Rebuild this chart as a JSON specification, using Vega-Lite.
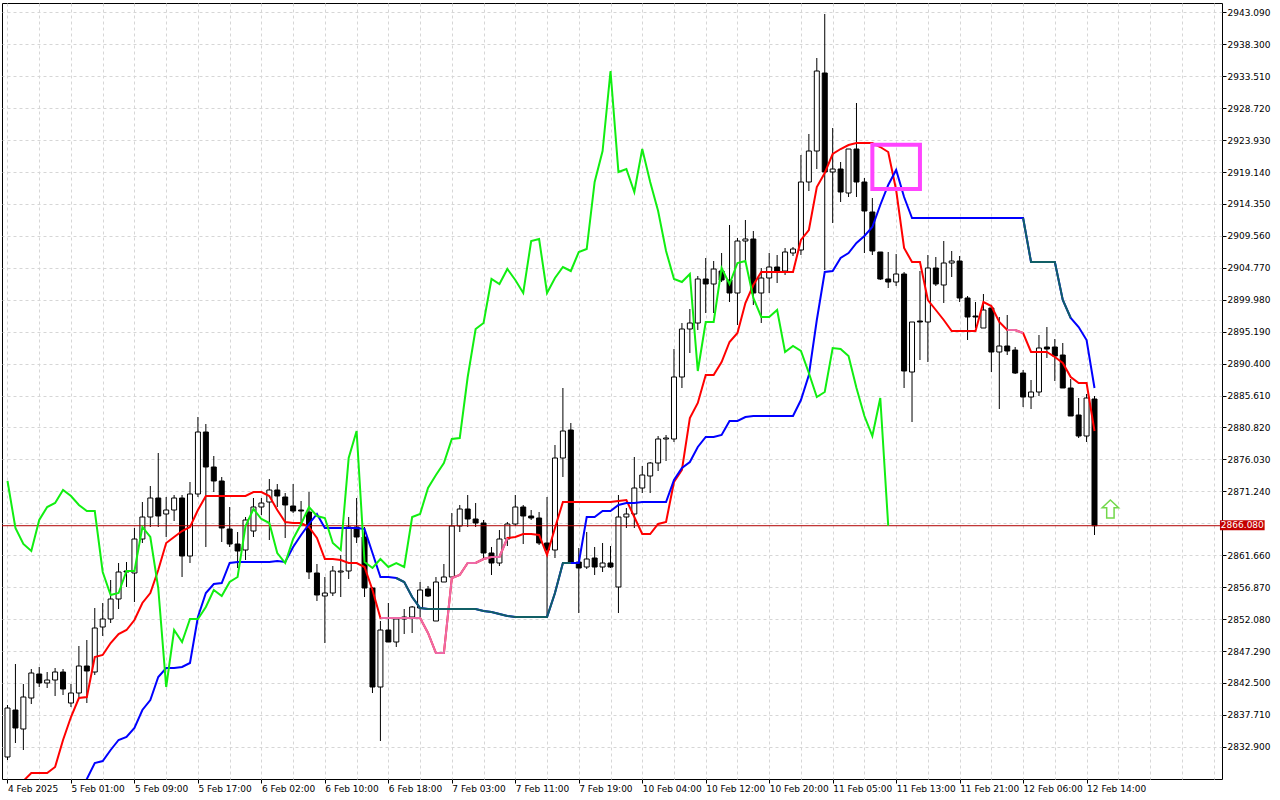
{
  "$schema": "https://vega.github.io/schema/vega-lite/v6.json",
  "width": 1220,
  "height": 776,
  "autosize": {"type": "none"},
  "padding": {"left": 2, "top": 3, "right": 58, "bottom": 21},
  "background": "white",
  "config": {
    "view": {"stroke": "black", "strokeWidth": 1},
    "font": "DejaVu Sans",
    "axis": {"labelOverlap": false}
  },
  "datasets": {
    "ohlc": [
      {"i":0,"o":2831.39,"h":2839.19,"l":2830.94,"c":2838.74,"t":2826.44,"g":2872.79},
      {"i":1,"o":2838.44,"h":2845.34,"l":2833.49,"c":2835.74,"t":2827.04,"g":2865.74},
      {"i":2,"o":2835.59,"h":2842.34,"l":2832.44,"c":2840.39,"t":2827.79,"g":2863.34},
      {"i":3,"o":2840.24,"h":2844.59,"l":2839.34,"c":2843.99,"t":2828.99,"g":2862.29},
      {"i":4,"o":2843.84,"h":2844.89,"l":2841.89,"c":2842.49,"t":2828.99,"g":2866.94},
      {"i":5,"o":2842.49,"h":2844.14,"l":2841.74,"c":2842.94,"t":2828.99,"g":2868.89},
      {"i":6,"o":2842.94,"h":2844.74,"l":2840.54,"c":2844.14,"t":2829.89,"g":2869.49},
      {"i":7,"o":2844.14,"h":2844.59,"l":2840.69,"c":2841.59,"t":2833.94,"g":2871.44},
      {"i":8,"o":2839.49,"h":2842.34,"l":2838.89,"c":2840.99,"t":2837.39,"g":2870.54},
      {"i":9,"o":2840.99,"h":2848.04,"l":2840.39,"c":2845.04,"t":2840.24,"k":2826.44,"g":2869.19},
      {"i":10,"o":2845.04,"h":2848.94,"l":2839.49,"c":2844.29,"t":2840.39,"k":2828.09,"g":2868.29},
      {"i":11,"o":2844.14,"h":2853.74,"l":2843.69,"c":2850.74,"t":2846.39,"k":2830.49,"g":2868.29},
      {"i":12,"o":2850.89,"h":2854.49,"l":2849.54,"c":2852.09,"t":2846.69,"k":2830.79,"g":2859.14},
      {"i":13,"o":2852.09,"h":2857.94,"l":2851.49,"c":2855.09,"t":2848.49,"k":2832.44,"g":2855.69},
      {"i":14,"o":2855.09,"h":2860.49,"l":2853.59,"c":2859.14,"t":2849.84,"k":2833.94,"g":2855.99},
      {"i":15,"o":2859.29,"h":2860.64,"l":2856.89,"c":2859.14,"t":2850.44,"k":2834.39,"g":2859.29},
      {"i":16,"o":2858.99,"h":2865.74,"l":2854.64,"c":2864.09,"t":2851.94,"k":2835.74,"g":2859.29},
      {"i":17,"o":2864.09,"h":2869.64,"l":2863.49,"c":2867.39,"t":2854.49,"k":2838.44,"g":2865.89},
      {"i":18,"o":2867.39,"h":2872.04,"l":2865.89,"c":2870.24,"t":2855.99,"k":2839.94,"g":2864.39},
      {"i":19,"o":2870.24,"h":2876.99,"l":2865.89,"c":2867.54,"t":2859.44,"k":2843.39,"g":2856.74},
      {"i":20,"o":2867.84,"h":2870.39,"l":2864.39,"c":2868.44,"t":2863.49,"k":2844.74,"g":2841.89},
      {"i":21,"o":2868.44,"h":2870.69,"l":2866.79,"c":2870.24,"t":2864.39,"k":2844.74,"g":2850.44},
      {"i":22,"o":2870.24,"h":2870.69,"l":2858.39,"c":2861.54,"t":2865.29,"k":2844.89,"g":2848.64},
      {"i":23,"o":2861.54,"h":2872.64,"l":2860.49,"c":2870.84,"t":2865.89,"k":2845.49,"g":2852.09},
      {"i":24,"o":2870.84,"h":2882.39,"l":2870.39,"c":2880.14,"t":2868.44,"k":2852.39,"g":2852.09},
      {"i":25,"o":2880.14,"h":2881.34,"l":2862.89,"c":2874.89,"t":2870.54,"k":2855.99,"g":2853.89},
      {"i":26,"o":2874.89,"h":2876.54,"l":2871.14,"c":2872.79,"t":2870.54,"k":2857.34,"g":2856.44},
      {"i":27,"o":2872.79,"h":2873.39,"l":2863.64,"c":2865.74,"t":2870.54,"k":2857.49,"g":2855.54},
      {"i":28,"o":2865.59,"h":2868.89,"l":2862.89,"c":2863.34,"t":2870.54,"k":2860.49,"g":2857.64},
      {"i":29,"o":2863.34,"h":2865.14,"l":2859.74,"c":2862.29,"t":2870.54,"k":2860.64,"g":2858.39},
      {"i":30,"o":2862.44,"h":2867.39,"l":2860.94,"c":2866.94,"t":2870.54,"k":2860.64,"g":2866.04},
      {"i":31,"o":2865.29,"h":2870.24,"l":2864.39,"c":2868.89,"t":2871.14,"k":2860.64,"g":2868.59},
      {"i":32,"o":2868.89,"h":2870.24,"l":2867.69,"c":2869.49,"t":2871.14,"k":2860.64,"g":2867.09},
      {"i":33,"o":2869.64,"h":2873.09,"l":2863.94,"c":2871.44,"t":2870.54,"k":2860.64,"g":2866.49},
      {"i":34,"o":2871.44,"h":2872.34,"l":2868.89,"c":2870.54,"t":2868.44,"k":2860.79,"g":2861.99},
      {"i":35,"o":2870.39,"h":2870.99,"l":2864.24,"c":2869.19,"t":2866.64,"k":2860.64,"g":2860.49},
      {"i":36,"o":2869.04,"h":2872.34,"l":2867.99,"c":2868.29,"t":2866.49,"k":2862.89,"g":2864.09},
      {"i":37,"o":2868.44,"h":2869.79,"l":2866.04,"c":2868.29,"t":2866.49,"k":2864.69,"g":2866.34},
      {"i":38,"o":2868.14,"h":2871.14,"l":2858.09,"c":2859.14,"t":2865.89,"k":2866.34,"g":2868.89},
      {"i":39,"o":2858.99,"h":2860.34,"l":2854.79,"c":2855.69,"t":2864.24,"k":2867.84,"g":2867.54},
      {"i":40,"o":2855.54,"h":2858.39,"l":2848.49,"c":2855.99,"t":2861.09,"k":2865.74,"g":2867.24},
      {"i":41,"o":2855.99,"h":2860.04,"l":2855.54,"c":2859.29,"t":2861.09,"k":2865.74,"g":2863.49},
      {"i":42,"o":2859.14,"h":2861.69,"l":2855.39,"c":2859.29,"t":2860.94,"k":2865.74,"g":2862.44},
      {"i":43,"o":2859.29,"h":2867.39,"l":2858.09,"c":2865.89,"t":2860.49,"k":2865.74,"g":2876.24},
      {"i":44,"o":2865.89,"h":2870.24,"l":2863.49,"c":2864.39,"t":2860.49,"k":2865.74,"g":2880.29},
      {"i":45,"o":2864.39,"h":2865.89,"l":2855.39,"c":2856.74,"t":2859.89,"k":2865.59,"g":2860.64},
      {"i":46,"o":2856.74,"h":2856.89,"l":2840.99,"c":2841.89,"t":2856.44,"k":2861.99,"g":2859.74},
      {"i":47,"o":2841.89,"h":2851.79,"l":2833.79,"c":2850.44,"t":2852.24,"k":2858.39,"g":2861.09},
      {"i":48,"o":2850.44,"h":2854.49,"l":2848.64,"c":2848.64,"t":2852.24,"k":2858.39,"g":2859.89},
      {"i":49,"o":2848.64,"h":2852.39,"l":2847.89,"c":2852.09,"t":2852.24,"k":2858.24,"g":2860.49},
      {"i":50,"o":2852.39,"h":2853.59,"l":2849.84,"c":2852.09,"t":2852.24,"k":2857.64,"g":2859.89},
      {"i":51,"o":2852.39,"h":2854.04,"l":2849.99,"c":2853.89,"t":2852.24,"k":2855.39,"g":2867.39},
      {"i":52,"o":2853.74,"h":2857.64,"l":2852.09,"c":2856.44,"t":2852.24,"k":2853.74,"g":2867.84},
      {"i":53,"o":2856.59,"h":2857.04,"l":2855.39,"c":2855.54,"t":2849.99,"k":2853.59,"g":2871.74},
      {"i":54,"o":2851.79,"h":2858.39,"l":2851.79,"c":2857.64,"t":2846.99,"k":2853.59,"g":2873.69},
      {"i":55,"o":2857.64,"h":2860.34,"l":2857.64,"c":2858.39,"t":2846.99,"k":2853.59,"g":2875.49},
      {"i":56,"o":2858.39,"h":2867.99,"l":2858.24,"c":2866.04,"t":2858.24,"k":2853.59,"g":2879.09},
      {"i":57,"o":2866.04,"h":2869.19,"l":2865.14,"c":2868.59,"t":2858.69,"k":2853.59,"g":2879.24},
      {"i":58,"o":2868.59,"h":2870.69,"l":2865.89,"c":2867.09,"t":2860.49,"k":2853.59,"g":2888.39},
      {"i":59,"o":2867.09,"h":2869.49,"l":2865.89,"c":2866.49,"t":2860.49,"k":2853.59,"g":2895.59},
      {"i":60,"o":2866.49,"h":2866.94,"l":2861.24,"c":2861.99,"t":2861.09,"k":2853.29,"g":2896.49},
      {"i":61,"o":2861.99,"h":2862.89,"l":2858.69,"c":2860.49,"t":2861.39,"k":2853.14,"g":2903.09},
      {"i":62,"o":2860.49,"h":2865.44,"l":2860.04,"c":2864.09,"t":2861.39,"k":2852.84,"g":2902.34},
      {"i":63,"o":2864.09,"h":2866.64,"l":2863.04,"c":2866.34,"t":2864.24,"k":2852.54,"g":2904.59},
      {"i":64,"o":2866.34,"h":2870.69,"l":2866.04,"c":2868.89,"t":2864.39,"k":2852.39,"g":2902.94},
      {"i":65,"o":2868.89,"h":2869.19,"l":2863.34,"c":2867.54,"t":2864.84,"k":2852.39,"g":2900.99},
      {"i":66,"o":2867.54,"h":2868.44,"l":2866.94,"c":2867.24,"t":2864.84,"k":2852.39,"g":2908.79},
      {"i":67,"o":2867.24,"h":2868.14,"l":2863.19,"c":2863.49,"t":2864.69,"k":2852.39,"g":2909.09},
      {"i":68,"o":2863.49,"h":2870.39,"l":2852.39,"c":2862.44,"t":2861.69,"k":2852.39,"g":2900.99},
      {"i":69,"o":2862.44,"h":2878.19,"l":2861.24,"c":2876.24,"t":2865.74,"k":2855.99,"g":2903.24},
      {"i":70,"o":2876.24,"h":2886.74,"l":2873.39,"c":2880.29,"t":2869.64,"k":2860.49,"g":2904.89},
      {"i":71,"o":2880.44,"h":2881.49,"l":2860.49,"c":2860.64,"t":2869.64,"k":2860.49,"g":2904.29},
      {"i":72,"o":2860.64,"h":2862.74,"l":2852.99,"c":2859.74,"t":2869.64,"k":2860.49,"g":2907.14},
      {"i":73,"o":2859.89,"h":2865.14,"l":2859.59,"c":2861.09,"t":2869.64,"k":2867.39,"g":2907.59},
      {"i":74,"o":2861.24,"h":2862.89,"l":2858.69,"c":2859.89,"t":2869.64,"k":2867.39,"g":2917.64},
      {"i":75,"o":2859.89,"h":2863.49,"l":2859.14,"c":2860.49,"t":2869.64,"k":2868.29,"g":2922.29},
      {"i":76,"o":2860.49,"h":2863.04,"l":2859.74,"c":2859.89,"t":2869.64,"k":2868.29,"g":2934.29},
      {"i":77,"o":2856.89,"h":2870.69,"l":2852.99,"c":2867.39,"t":2869.79,"k":2869.19,"g":2919.14},
      {"i":78,"o":2867.39,"h":2868.74,"l":2865.74,"c":2867.84,"t":2869.94,"k":2869.49,"g":2919.59},
      {"i":79,"o":2867.84,"h":2876.39,"l":2865.74,"c":2871.74,"t":2867.39,"k":2869.49,"g":2916.14},
      {"i":80,"o":2871.74,"h":2875.04,"l":2870.99,"c":2873.69,"t":2864.84,"k":2869.64,"g":2922.59},
      {"i":81,"o":2873.54,"h":2875.64,"l":2870.99,"c":2875.49,"t":2864.84,"k":2869.64,"g":2917.64},
      {"i":82,"o":2875.49,"h":2879.54,"l":2874.29,"c":2879.09,"t":2866.34,"k":2869.64,"g":2913.29},
      {"i":83,"o":2879.09,"h":2879.69,"l":2875.79,"c":2879.24,"t":2866.64,"k":2869.64,"g":2907.29},
      {"i":84,"o":2879.09,"h":2892.59,"l":2878.64,"c":2888.39,"t":2872.64,"k":2872.94,"g":2903.09},
      {"i":85,"o":2888.39,"h":2896.49,"l":2886.74,"c":2895.59,"t":2874.44,"k":2874.74,"g":2902.64},
      {"i":86,"o":2895.59,"h":2898.59,"l":2891.99,"c":2896.49,"t":2882.24,"k":2875.64,"g":2903.84},
      {"i":87,"o":2896.49,"h":2903.54,"l":2895.44,"c":2903.09,"t":2884.49,"k":2877.89,"g":2889.29},
      {"i":88,"o":2903.09,"h":2906.24,"l":2897.99,"c":2902.34,"t":2888.69,"k":2879.39,"g":2896.64},
      {"i":89,"o":2902.34,"h":2905.79,"l":2897.99,"c":2904.59,"t":2888.69,"k":2879.39,"g":2896.64},
      {"i":90,"o":2904.29,"h":2906.99,"l":2902.64,"c":2902.94,"t":2890.64,"k":2879.69,"g":2904.74},
      {"i":91,"o":2902.94,"h":2911.19,"l":2899.64,"c":2900.99,"t":2893.64,"k":2881.79,"g":2902.34},
      {"i":92,"o":2900.99,"h":2909.24,"l":2896.19,"c":2908.79,"t":2894.99,"k":2881.79,"g":2905.49},
      {"i":93,"o":2908.79,"h":2911.94,"l":2905.49,"c":2909.09,"t":2899.49,"k":2882.39,"g":2905.79},
      {"i":94,"o":2909.09,"h":2910.29,"l":2899.19,"c":2900.99,"t":2902.19,"k":2882.54,"g":2900.24},
      {"i":95,"o":2900.99,"h":2904.74,"l":2896.49,"c":2903.24,"t":2904.14,"k":2882.54,"g":2897.39},
      {"i":96,"o":2903.24,"h":2906.99,"l":2900.99,"c":2904.89,"t":2904.14,"k":2882.54,"g":2897.39},
      {"i":97,"o":2904.89,"h":2906.69,"l":2902.49,"c":2904.29,"t":2904.14,"k":2882.54,"g":2898.44},
      {"i":98,"o":2904.29,"h":2907.74,"l":2903.69,"c":2907.14,"t":2904.14,"k":2882.54,"g":2892.14},
      {"i":99,"o":2906.99,"h":2907.89,"l":2906.54,"c":2907.59,"t":2904.14,"k":2882.54,"g":2893.04},
      {"i":100,"o":2907.44,"h":2921.69,"l":2906.69,"c":2917.64,"t":2908.94,"k":2884.94,"g":2892.29},
      {"i":101,"o":2917.64,"h":2924.84,"l":2916.29,"c":2922.29,"t":2910.44,"k":2888.69,"g":2888.99},
      {"i":102,"o":2922.29,"h":2936.24,"l":2919.59,"c":2934.29,"t":2916.89,"k":2896.94,"g":2885.39},
      {"i":103,"o":2933.99,"h":2942.84,"l":2904.44,"c":2919.14,"t":2918.99,"k":2904.14,"g":2886.14},
      {"i":104,"o":2919.14,"h":2925.74,"l":2911.49,"c":2919.59,"t":2921.84,"k":2904.29,"g":2892.74},
      {"i":105,"o":2919.59,"h":2920.64,"l":2914.64,"c":2916.14,"t":2922.59,"k":2906.24,"g":2892.59},
      {"i":106,"o":2915.99,"h":2922.59,"l":2915.39,"c":2922.59,"t":2923.19,"k":2906.99,"g":2891.54},
      {"i":107,"o":2922.59,"h":2929.49,"l":2915.39,"c":2917.64,"t":2923.49,"k":2908.49,"g":2886.74},
      {"i":108,"o":2917.64,"h":2918.24,"l":2906.99,"c":2913.29,"t":2923.49,"k":2909.54,"g":2882.54},
      {"i":109,"o":2913.14,"h":2915.24,"l":2906.69,"c":2907.29,"t":2923.49,"k":2910.89,"g":2879.54},
      {"i":110,"o":2907.14,"h":2907.14,"l":2902.94,"c":2903.09,"t":2922.89,"k":2914.19,"g":2885.24},
      {"i":111,"o":2903.09,"h":2907.14,"l":2901.74,"c":2902.64,"t":2922.14,"k":2917.19,"g":2866.08},
      {"i":112,"o":2902.64,"h":2906.84,"l":2902.04,"c":2903.84,"t":2916.44,"k":2919.44},
      {"i":113,"o":2903.84,"h":2904.14,"l":2886.74,"c":2889.29,"t":2907.74,"k":2915.39},
      {"i":114,"o":2889.14,"h":2896.64,"l":2881.64,"c":2896.64,"t":2905.64,"k":2912.24},
      {"i":115,"o":2896.79,"h":2904.29,"l":2890.94,"c":2896.64,"t":2905.64,"k":2912.24},
      {"i":116,"o":2896.64,"h":2906.69,"l":2890.64,"c":2904.74,"t":2899.94,"k":2912.24},
      {"i":117,"o":2904.74,"h":2906.39,"l":2902.04,"c":2902.34,"t":2898.44,"k":2912.24},
      {"i":118,"o":2902.19,"h":2908.79,"l":2899.49,"c":2905.49,"t":2896.94,"k":2912.24},
      {"i":119,"o":2905.49,"h":2907.29,"l":2903.39,"c":2905.79,"t":2895.29,"k":2912.24},
      {"i":120,"o":2905.79,"h":2906.54,"l":2899.64,"c":2900.24,"t":2895.29,"k":2912.24},
      {"i":121,"o":2900.24,"h":2900.54,"l":2893.94,"c":2897.39,"t":2895.29,"k":2912.24},
      {"i":122,"o":2897.54,"h":2899.64,"l":2895.74,"c":2897.39,"t":2895.29,"k":2912.24},
      {"i":123,"o":2895.74,"h":2900.84,"l":2895.74,"c":2898.44,"t":2899.64,"k":2912.24},
      {"i":124,"o":2898.74,"h":2898.89,"l":2889.14,"c":2892.14,"t":2899.04,"k":2912.24},
      {"i":125,"o":2892.14,"h":2897.39,"l":2883.59,"c":2893.04,"t":2896.64,"k":2912.24},
      {"i":126,"o":2893.04,"h":2897.69,"l":2891.69,"c":2892.29,"t":2895.44,"k":2912.24},
      {"i":127,"o":2892.44,"h":2892.89,"l":2888.84,"c":2888.99,"t":2895.44,"k":2912.24},
      {"i":128,"o":2888.99,"h":2889.44,"l":2883.89,"c":2885.39,"t":2894.99,"k":2912.24},
      {"i":129,"o":2885.39,"h":2887.94,"l":2883.59,"c":2886.14,"t":2892.14,"k":2905.64},
      {"i":130,"o":2886.14,"h":2894.69,"l":2885.54,"c":2892.74,"t":2892.14,"k":2905.64},
      {"i":131,"o":2892.89,"h":2895.89,"l":2891.24,"c":2892.59,"t":2892.14,"k":2905.64},
      {"i":132,"o":2892.89,"h":2894.09,"l":2887.79,"c":2891.54,"t":2891.39,"k":2905.64},
      {"i":133,"o":2891.69,"h":2893.49,"l":2886.74,"c":2886.74,"t":2890.49,"k":2899.94},
      {"i":134,"o":2886.74,"h":2888.09,"l":2882.54,"c":2882.54,"t":2888.39,"k":2897.24},
      {"i":135,"o":2882.69,"h":2885.24,"l":2879.24,"c":2879.54,"t":2887.49,"k":2895.89},
      {"i":136,"o":2879.54,"h":2885.84,"l":2878.64,"c":2885.24,"t":2887.49,"k":2893.94},
      {"i":137,"o":2885.09,"h":2885.54,"l":2864.69,"c":2866.08,"t":2880.29,"k":2886.74}
    ],
    "seg": [
      {"s":"p1","line":"pink","i":47,"v":2852.24},{"s":"p1","line":"pink","i":48,"v":2852.24},
      {"s":"p1","line":"pink","i":49,"v":2852.24},{"s":"p1","line":"pink","i":50,"v":2852.24},
      {"s":"p1","line":"pink","i":51,"v":2852.24},{"s":"p1","line":"pink","i":52,"v":2852.24},
      {"s":"p1","line":"pink","i":53,"v":2849.99},{"s":"p1","line":"pink","i":54,"v":2846.99},
      {"s":"p1","line":"pink","i":55,"v":2846.99},{"s":"p1","line":"pink","i":56,"v":2858.24},
      {"s":"p1","line":"pink","i":57,"v":2858.69},{"s":"p1","line":"pink","i":58,"v":2860.49},
      {"s":"p1","line":"pink","i":59,"v":2860.49},{"s":"p1","line":"pink","i":60,"v":2861.09},
      {"s":"p1","line":"pink","i":61,"v":2861.39},{"s":"p1","line":"pink","i":62,"v":2861.39},
      {"s":"p1","line":"pink","i":63,"v":2864.24},
      {"s":"t1","line":"teal","i":49,"v":2858.24},{"s":"t1","line":"teal","i":50,"v":2857.64},
      {"s":"t1","line":"teal","i":51,"v":2855.39},{"s":"t1","line":"teal","i":52,"v":2853.74},
      {"s":"t1","line":"teal","i":53,"v":2853.59},{"s":"t1","line":"teal","i":54,"v":2853.59},
      {"s":"t1","line":"teal","i":55,"v":2853.59},{"s":"t1","line":"teal","i":56,"v":2853.59},
      {"s":"t1","line":"teal","i":57,"v":2853.59},{"s":"t1","line":"teal","i":58,"v":2853.59},
      {"s":"t1","line":"teal","i":59,"v":2853.59},{"s":"t1","line":"teal","i":60,"v":2853.29},
      {"s":"t1","line":"teal","i":61,"v":2853.14},{"s":"t1","line":"teal","i":62,"v":2852.84},
      {"s":"t1","line":"teal","i":63,"v":2852.54},{"s":"t1","line":"teal","i":64,"v":2852.39},
      {"s":"t1","line":"teal","i":65,"v":2852.39},{"s":"t1","line":"teal","i":66,"v":2852.39},
      {"s":"t1","line":"teal","i":67,"v":2852.39},{"s":"t1","line":"teal","i":68,"v":2852.39},
      {"s":"t1","line":"teal","i":69,"v":2855.99},{"s":"t1","line":"teal","i":70,"v":2860.49},
      {"s":"t1","line":"teal","i":71,"v":2860.49},
      {"s":"p2","line":"pink","i":126,"v":2895.44},{"s":"p2","line":"pink","i":127,"v":2895.44},
      {"s":"p2","line":"pink","i":128,"v":2894.99},
      {"s":"t2","line":"teal","i":128,"v":2912.24},{"s":"t2","line":"teal","i":129,"v":2905.64},
      {"s":"t2","line":"teal","i":130,"v":2905.64},{"s":"t2","line":"teal","i":131,"v":2905.64},
      {"s":"t2","line":"teal","i":132,"v":2905.64},{"s":"t2","line":"teal","i":133,"v":2899.94},
      {"s":"t2","line":"teal","i":134,"v":2897.24}
    ]
  },
  "layer": [
    {
      "data": {"name": "ohlc"},
      "mark": {"type": "rule", "color": "black", "strokeWidth": 1},
      "encoding": {
        "x": {
          "field": "i", "type": "quantitative", "title": null,
          "scale": {"domain": [-0.0625, 152.4375], "nice": false, "zero": false},
          "axis": {
            "values": [0,4,8,12,16,20,24,28,32,36,40,44,48,52,56,60,64,68,72,76,80,84,88,92,96,100,104,108,112,116,120,124,128,132,136,140,144,148,152],
            "tickCount": 200,
            "labelExpr": "datum.value % 8 == 0 && datum.value <= 136 ? ['4 Feb 2025','5 Feb 01:00','5 Feb 09:00','5 Feb 17:00','6 Feb 02:00','6 Feb 10:00','6 Feb 18:00','7 Feb 03:00','7 Feb 11:00','7 Feb 19:00','10 Feb 04:00','10 Feb 12:00','10 Feb 20:00','11 Feb 05:00','11 Feb 13:00','11 Feb 21:00','12 Feb 06:00','12 Feb 14:00'][datum.value / 8] : ''",
            "grid": true, "gridColor": "#d6d6d6", "gridDash": [3, 3],
            "domain": false, "tickColor": "black", "tickSize": 4,
            "tickOpacity": {"condition": {"test": "datum.value % 8 == 0 && datum.value <= 136", "value": 1}, "value": 0},
            "labelFont": "DejaVu Sans", "labelFontSize": 9, "labelColor": "black",
            "labelAlign": "left", "labelPadding": 1, "labelOverlap": false,
            "labelBound": false, "labelFlush": false
          }
        },
        "y": {
          "field": "l", "type": "quantitative", "title": null,
          "scale": {"domain": [2828.09, 2944.49], "nice": false, "zero": false},
          "axis": {
            "orient": "right",
            "values": [2832.9,2837.71,2842.5,2847.29,2852.08,2856.87,2861.66,2866.45,2871.24,2876.03,2880.82,2885.61,2890.4,2895.19,2899.98,2904.77,2909.56,2914.35,2919.14,2923.93,2928.72,2933.51,2938.3,2943.09],
            "tickCount": 200,
            "labelExpr": "abs(datum.value - 2866.45) < 0.01 ? '' : format(datum.value, '.3f')",
            "grid": true, "gridColor": "#d6d6d6", "gridDash": [3, 3],
            "domain": false, "tickColor": "black", "tickSize": 4,
            "labelFont": "DejaVu Sans", "labelFontSize": 9, "labelColor": "black",
            "labelPadding": 1, "labelOverlap": false, "labelBound": false, "labelFlush": false
          }
        },
        "y2": {"field": "h"}
      }
    },
    {
      "data": {"name": "ohlc"},
      "mark": {"type": "bar", "width": 5, "stroke": "black", "strokeWidth": 1},
      "encoding": {
        "x": {"field": "i", "type": "quantitative", "title": null, "scale": {"domain": [-0.0625, 152.4375], "nice": false, "zero": false}},
        "y": {"field": "o", "type": "quantitative", "title": null, "scale": {"domain": [2828.09, 2944.49], "nice": false, "zero": false}},
        "y2": {"field": "c"},
        "fill": {"condition": {"test": "datum.c >= datum.o", "value": "white"}, "value": "black"}
      }
    },
    {
      "data": {"values": [{"p": 2866.08}]},
      "mark": {"type": "rule", "color": "#b00000", "strokeWidth": 1},
      "encoding": {
        "y": {"field": "p", "type": "quantitative", "title": null, "scale": {"domain": [2828.09, 2944.49], "nice": false, "zero": false}}
      }
    },
    {
      "data": {"name": "ohlc"},
      "mark": {"type": "line", "color": "#ff0000", "strokeWidth": 2, "clip": true},
      "encoding": {
        "x": {"field": "i", "type": "quantitative", "title": null, "scale": {"domain": [-0.0625, 152.4375], "nice": false, "zero": false}},
        "y": {"field": "t", "type": "quantitative", "title": null, "scale": {"domain": [2828.09, 2944.49], "nice": false, "zero": false}}
      }
    },
    {
      "data": {"name": "ohlc"},
      "mark": {"type": "line", "color": "#0000ff", "strokeWidth": 2, "clip": true},
      "encoding": {
        "x": {"field": "i", "type": "quantitative", "title": null, "scale": {"domain": [-0.0625, 152.4375], "nice": false, "zero": false}},
        "y": {"field": "k", "type": "quantitative", "title": null, "scale": {"domain": [2828.09, 2944.49], "nice": false, "zero": false}}
      }
    },
    {
      "data": {"name": "seg"},
      "mark": {"type": "line", "strokeWidth": 2, "clip": true},
      "encoding": {
        "x": {"field": "i", "type": "quantitative", "title": null, "scale": {"domain": [-0.0625, 152.4375], "nice": false, "zero": false}},
        "y": {"field": "v", "type": "quantitative", "title": null, "scale": {"domain": [2828.09, 2944.49], "nice": false, "zero": false}},
        "detail": {"field": "s"},
        "color": {"field": "line", "type": "nominal", "legend": null, "scale": {"domain": ["pink", "teal"], "range": ["#ee6aa7", "#115f66"]}}
      }
    },
    {
      "data": {"name": "ohlc"},
      "mark": {"type": "line", "color": "#11ee11", "strokeWidth": 2, "clip": true},
      "encoding": {
        "x": {"field": "i", "type": "quantitative", "title": null, "scale": {"domain": [-0.0625, 152.4375], "nice": false, "zero": false}},
        "y": {"field": "g", "type": "quantitative", "title": null, "scale": {"domain": [2828.09, 2944.49], "nice": false, "zero": false}}
      }
    },
    {
      "data": {"values": [{"a": 109, "b": 115, "lo": 2916.59, "hi": 2923.24}]},
      "mark": {"type": "rect", "fill": "transparent", "stroke": "#ff44ff", "strokeWidth": 4},
      "encoding": {
        "x": {"field": "a", "type": "quantitative", "title": null, "scale": {"domain": [-0.0625, 152.4375], "nice": false, "zero": false}},
        "x2": {"field": "b"},
        "y": {"field": "lo", "type": "quantitative", "title": null, "scale": {"domain": [2828.09, 2944.49], "nice": false, "zero": false}},
        "y2": {"field": "hi"}
      }
    },
    {
      "data": {"values": [{"i": 139, "p": 2868.59}]},
      "mark": {"type": "point", "shape": "M0,-1.1L1,-0.15L0.45,-0.15L0.45,1.1L-0.45,1.1L-0.45,-0.15L-1,-0.15Z", "size": 270, "filled": true, "fill": "white", "stroke": "#72d84a", "strokeWidth": 1.5, "opacity": 1},
      "encoding": {
        "x": {"field": "i", "type": "quantitative", "title": null, "scale": {"domain": [-0.0625, 152.4375], "nice": false, "zero": false}},
        "y": {"field": "p", "type": "quantitative", "title": null, "scale": {"domain": [2828.09, 2944.49], "nice": false, "zero": false}}
      }
    },
    {
      "data": {"values": [{"a": 152.81, "b": 158.44, "lo": 2865.4, "hi": 2866.9}]},
      "mark": {"type": "rect", "fill": "#c40000"},
      "encoding": {
        "x": {"field": "a", "type": "quantitative", "title": null, "scale": {"domain": [-0.0625, 152.4375], "nice": false, "zero": false}},
        "x2": {"field": "b"},
        "y": {"field": "lo", "type": "quantitative", "title": null, "scale": {"domain": [2828.09, 2944.49], "nice": false, "zero": false}},
        "y2": {"field": "hi"}
      }
    },
    {
      "data": {"values": [{"i": 155.63, "p": 2866.15, "label": "2866.080"}]},
      "mark": {"type": "text", "color": "white", "font": "DejaVu Sans", "fontSize": 9, "align": "center", "baseline": "middle"},
      "encoding": {
        "x": {"field": "i", "type": "quantitative", "title": null, "scale": {"domain": [-0.0625, 152.4375], "nice": false, "zero": false}},
        "y": {"field": "p", "type": "quantitative", "title": null, "scale": {"domain": [2828.09, 2944.49], "nice": false, "zero": false}},
        "text": {"field": "label"}
      }
    }
  ]
}
